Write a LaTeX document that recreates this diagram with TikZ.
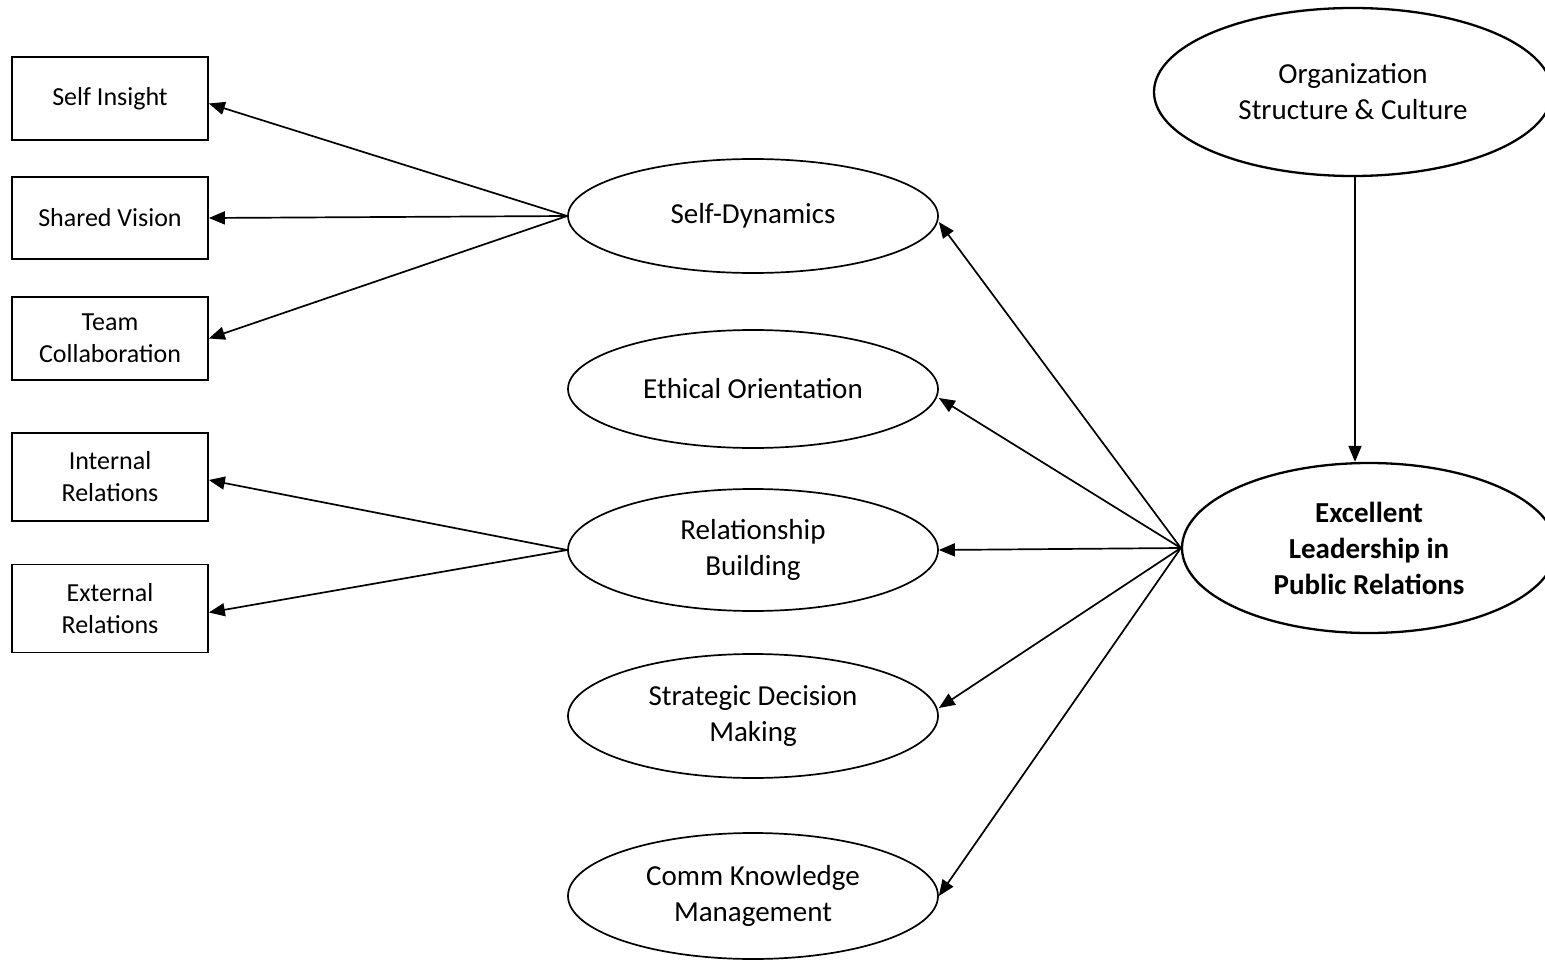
\documentclass[tikz,border=0pt]{standalone}
\usepackage{fontspec}
\setmainfont{Carlito}
\usetikzlibrary{shapes.geometric,arrows.meta}
\begin{document}
\begin{tikzpicture}[x=1pt,y=-1pt,
 box/.style={draw,line width=1.7pt,minimum width=196pt,inner sep=0pt,align=center,font=\fontsize{26}{32}\selectfont},
 oval/.style={draw,ellipse,line width=1.7pt,minimum width=370pt,inner sep=0pt,align=center,font=\fontsize{29}{36}\selectfont},
 bigoval/.style={draw,ellipse,line width=2.3pt,inner sep=0pt,align=center,font=\fontsize{29}{36}\selectfont},
 arr/.style={line width=1.7pt,-{Triangle[length=16pt,width=13pt]}}]
\useasboundingbox (0,0) rectangle (1545,960);
% boxes
\node[box,minimum height=83pt] (si) at (110,98.5) {Self Insight};
\node[box,minimum height=82pt] (sv) at (110,218) {Shared Vision};
\node[box,minimum height=83pt] (tc) at (110,338.5) {Team\\Collaboration};
\node[box,minimum height=88pt] (ir) at (110,477) {Internal\\Relations};
\node[box,minimum height=88pt] (er) at (110,608.5) {External\\Relations};
% middle ovals
\node[oval,minimum height=114pt] (sd) at (753,216) {Self-Dynamics};
\node[oval,minimum height=118pt] (eo) at (753,389) {Ethical Orientation};
\node[oval,minimum height=122pt] (rb) at (753,550) {Relationship\\Building};
\node[oval,minimum height=124pt] (sdm) at (753,716) {Strategic Decision\\Making};
\node[oval,minimum height=126pt] (ckm) at (753,896) {Comm Knowledge\\Management};
% right ovals
\node[bigoval,minimum width=398pt,minimum height=168pt] (org) at (1353,92) {Organization\\Structure \& Culture};
\node[bigoval,minimum width=374pt,minimum height=170pt,font=\fontsize{29}{36}\selectfont\bfseries] (ex) at (1369,548) {Excellent\\Leadership in\\Public Relations};
% connectors
\draw[arr] (sd.west) -- ([yshift=-5pt]si.east);
\draw[arr] (sd.west) -- (sv.east);
\draw[arr] (sd.west) -- (tc.east);
\draw[arr] (rb.west) -- ([yshift=-3pt]ir.east);
\draw[arr] (rb.west) -- ([yshift=-4pt]er.east);
\draw[arr] (ex.west) -- ([yshift=-6pt]sd.east);
\draw[arr] (ex.west) -- ([yshift=-9pt]eo.east);
\draw[arr] (ex.west) -- (rb.east);
\draw[arr] (ex.west) -- ([yshift=8pt]sdm.east);
\draw[arr] (ex.west) -- (ckm.east);
\draw[arr] ([xshift=2pt]org.south) -- ([xshift=-14pt]ex.north);
\end{tikzpicture}
\end{document}
